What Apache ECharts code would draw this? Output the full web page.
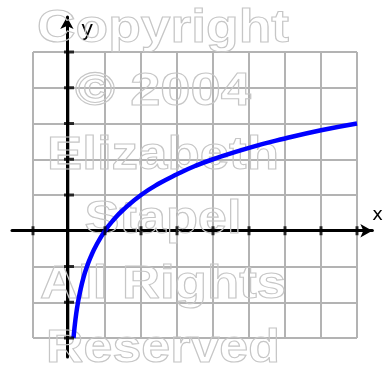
<!DOCTYPE html>
<html>
<head>
<meta charset="utf-8">
<script src="https://cdn.jsdelivr.net/npm/echarts@6/dist/echarts.min.js"></script>
<style>
  html, body { margin: 0; padding: 0; background: #fff; }
  #chart { width: 386px; height: 367px; }
</style>
</head>
<body>
<div id="chart"></div>
<script>
// Logarithmic curve y = log2(x), sampled points
const curveX = [0.125, 0.15, 0.2, 0.25, 0.3, 0.4, 0.5, 0.6, 0.75, 1, 1.25, 1.5, 2, 2.5, 3, 3.5, 4, 5, 6, 7, 8];
const curveY = [-3, -2.74, -2.32, -2, -1.74, -1.32, -1, -0.74, -0.42, 0, 0.32, 0.58, 1, 1.32, 1.58, 1.81, 2, 2.32, 2.58, 2.81, 3];

// Tick marks on the coordinate axes
const xTicks = [-1, 1, 2, 3, 4, 5, 6, 7, 8];
const yTicks = [-3, -2, -1, 1, 2, 3, 4, 5];

// Graph-paper window
const xRange = [-1, 8];
const yRange = [-3, 5];

// Watermark lines
const watermarkLines = ['Copyright', '\u00A9 2004', 'Elizabeth', 'Stapel', 'All Rights', 'Reserved'];

// ---- layout ----
const plot = { left: 33, right: 357, top: 52, bottom: 338 };
const axisBox = { left: 12, right: 386, top: 17, bottom: 357 };
const pxX = (plot.right - plot.left) / (xRange[1] - xRange[0]);
const pxY = (plot.bottom - plot.top) / (yRange[1] - yRange[0]);
const axMinX = xRange[0] - (plot.left - axisBox.left) / pxX;
const axMaxX = xRange[1] + (axisBox.right - plot.right) / pxX;
const axMinY = yRange[0] - (axisBox.bottom - plot.bottom) / pxY;
const axMaxY = yRange[1] + (plot.top - axisBox.top) / pxY;

const wmFont = 'bold 47px "Liberation Sans", Arial, sans-serif';
const wmCenterX = 163;
const wmBottoms = [53, 116, 180, 244, 309, 373];
const wmWidths = [252, 176, 232, 157, 246, 234];

const measureCtx = document.createElement('canvas').getContext('2d');
measureCtx.font = wmFont;

const watermark = watermarkLines.map(function (txt, i) {
  const w = measureCtx.measureText(txt).width;
  return {
    type: 'text',
    x: wmCenterX,
    y: wmBottoms[i],
    originX: 0,
    originY: 0,
    scaleX: wmWidths[i] / w,
    z: 1,
    silent: true,
    style: {
      text: txt,
      x: 0,
      y: 0,
      font: wmFont,
      fill: 'rgba(0,0,0,0)',
      stroke: '#c6c6c6',
      lineWidth: 1.1,
      align: 'center',
      verticalAlign: 'bottom'
    }
  };
});

const chart = echarts.init(document.getElementById('chart'), null, { renderer: 'canvas' });

const hiddenAxisParts = {
  axisLabel: { show: false },
  axisTick: { show: false }
};

chart.setOption({
  animation: false,
  backgroundColor: '#ffffff',
  graphic: watermark,
  grid: [
    { left: plot.left, top: plot.top, width: plot.right - plot.left, height: plot.bottom - plot.top },
    { left: axisBox.left, top: axisBox.top, width: axisBox.right - axisBox.left, height: axisBox.bottom - axisBox.top }
  ],
  xAxis: [
    Object.assign({
      gridIndex: 0, type: 'value', min: xRange[0], max: xRange[1], interval: 1,
      axisLine: { show: false },
      splitLine: { show: true, lineStyle: { color: '#b3b3b3', width: 2 } }
    }, hiddenAxisParts),
    Object.assign({
      gridIndex: 1, type: 'value', min: axMinX, max: axMaxX,
      axisLine: {
        show: true, onZero: true,
        lineStyle: { color: '#000', width: 3 },
        symbol: ['none', 'arrow'], symbolSize: [10, 12]
      },
      splitLine: { show: false },
      name: 'x',
      nameLocation: 'end',
      nameGap: 0,
      nameTextStyle: { color: '#000', fontSize: 18, fontFamily: 'DejaVu Sans', align: 'left', verticalAlign: 'bottom', padding: [0, 0, 6, 0] }
    }, hiddenAxisParts)
  ],
  yAxis: [
    Object.assign({
      gridIndex: 0, type: 'value', min: yRange[0], max: yRange[1], interval: 1,
      axisLine: { show: false },
      splitLine: { show: true, lineStyle: { color: '#b3b3b3', width: 2 } }
    }, hiddenAxisParts),
    Object.assign({
      gridIndex: 1, type: 'value', min: axMinY, max: axMaxY,
      axisLine: {
        show: true, onZero: true,
        lineStyle: { color: '#000', width: 3 },
        symbol: ['none', 'arrow'], symbolSize: [10, 12]
      },
      splitLine: { show: false },
      name: 'y',
      nameLocation: 'end',
      nameGap: -24,
      nameTextStyle: { color: '#000', fontSize: 21, fontFamily: 'DejaVu Sans', align: 'left', padding: [0, 0, 0, 14] }
    }, hiddenAxisParts)
  ],
  series: [
    {
      type: 'line',
      xAxisIndex: 0, yAxisIndex: 0,
      data: curveX.map(function (x, i) { return [x, curveY[i]]; }),
      smooth: true,
      showSymbol: false,
      clip: false,
      z: 5,
      lineStyle: { color: '#0000ff', width: 4.5 }
    },
    {
      type: 'scatter',
      xAxisIndex: 0, yAxisIndex: 0,
      data: xTicks.map(function (x) { return [x, 0]; }),
      symbol: 'rect',
      symbolSize: [3, 9],
      clip: false,
      z: 6,
      itemStyle: { color: '#000' }
    },
    {
      type: 'scatter',
      xAxisIndex: 0, yAxisIndex: 0,
      data: yTicks.map(function (y) { return [0, y]; }),
      symbol: 'rect',
      symbolSize: [10, 3],
      clip: false,
      z: 6,
      itemStyle: { color: '#000' }
    }
  ]
});
</script>
</body>
</html>
